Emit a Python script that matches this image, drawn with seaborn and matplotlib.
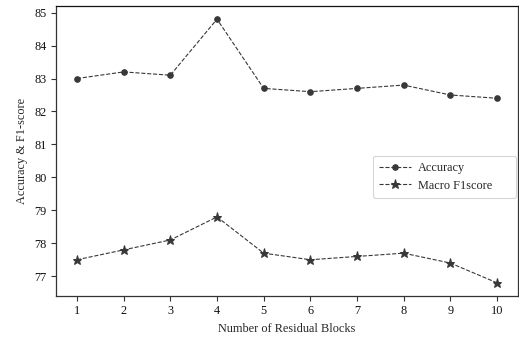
import numpy as np
import pandas as pd
import seaborn as sns
import matplotlib
matplotlib.use('Agg')
import matplotlib.pyplot as plt

blocks = [1, 2, 3, 4, 5, 6, 7, 8, 9, 10]
accuracy = [83.0, 83.2, 83.1, 84.8, 82.7, 82.6, 82.7, 82.8, 82.5, 82.4]
macro_f1 = [77.5, 77.8, 78.1, 78.8, 77.7, 77.5, 77.6, 77.7, 77.4, 76.8]
yticks = [77, 78, 79, 80, 81, 82, 83, 84, 85]

sns.set_style('ticks')
plt.rcParams['font.family'] = ['Liberation Serif', 'DejaVu Serif']
plt.rcParams['mathtext.fontset'] = 'stix'

df = pd.DataFrame({'blocks': blocks, 'Accuracy': accuracy, 'Macro F1score': macro_f1})

fig = plt.figure(figsize=(5.19, 3.39), dpi=100)
ax = fig.add_axes([56 / 519, 1 - 296 / 339, (518 - 56) / 519, (296 - 6) / 339])

color = '#383838'
sns.lineplot(data=df, x='blocks', y='Accuracy', ax=ax, color=color, linestyle='--',
             marker='o', markersize=4, markeredgecolor=color, linewidth=0.8,
             label='Accuracy')
sns.lineplot(data=df, x='blocks', y='Macro F1score', ax=ax, color=color, linestyle='--',
             marker='*', markersize=6.5, markeredgecolor=color, linewidth=0.8,
             label='Macro F1score')

fs = 8.8
ax.set_xticks(blocks)
ax.set_yticks(yticks)
ax.tick_params(labelsize=fs, length=3.5, width=0.8, colors='#333333', pad=3)
ax.tick_params(labelcolor='#111111')
ax.set_xlabel('Number of Residual Blocks', fontsize=fs, labelpad=4)
ax.set_ylabel('Accuracy & F1-score', fontsize=fs, labelpad=5)
for s in ax.spines.values():
    s.set_visible(True)
    s.set_linewidth(0.9)
    s.set_color('#333333')
ax.spines['top'].set_color('#111111')

# legend box spans x 373..516 px, top at about 156 px
x0 = (373 - 56) / 462
w = (516 - 373) / 462
top = 1 - (156 - 6) / 290
leg = ax.legend(loc='upper left', bbox_to_anchor=(x0, top - 0.2, w, 0.2), mode='expand',
                borderaxespad=0, fontsize=fs, frameon=True, handlelength=2.6,
                borderpad=0.5, labelspacing=0.45, handletextpad=0.6)
leg.get_frame().set_edgecolor('#cccccc')
leg.get_frame().set_linewidth(0.8)

fig.savefig('out.png', dpi=100)
